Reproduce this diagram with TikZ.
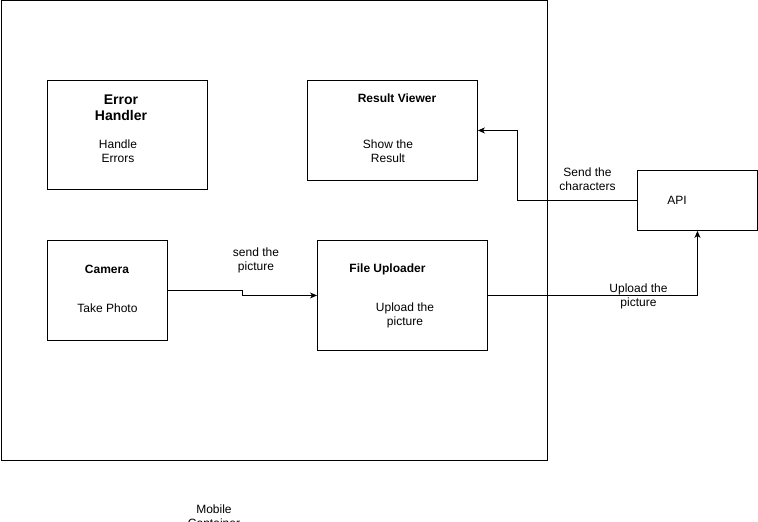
\documentclass[tikz,border=0pt]{standalone}
\usepackage{fontspec}
\setmainfont{Liberation Sans}
\usetikzlibrary{positioning,arrows.meta}

\begin{document}
\begin{tikzpicture}[x=1pt,y=-1pt,
  box/.style={rectangle,draw,line width=0.9pt,inner sep=0pt,anchor=north west},
  title/.style={font=\fontsize{12}{14}\selectfont\bfseries,inner sep=0pt,anchor=base},
  txt/.style={font=\fontsize{12}{14}\selectfont,align=center,inner sep=0pt},
  conn/.style={->,line width=0.9pt},
  >={Stealth[length=7pt,width=6pt,inset=2pt]}]
  \useasboundingbox (0,0) rectangle (758,522);
  \clip (0,0) rectangle (758,522);
  % Mobile container
  \node[box,minimum width=546.5pt,minimum height=459.5pt] (mobile) at (0.5,0.5) {};
  \node[txt] (mobiletext) at (214,516) {Mobile\\Container};
  % Components
  \node[box,minimum width=160pt,minimum height=109pt] (error) at (47,80) {};
  \node[box,minimum width=170pt,minimum height=100pt] (viewer) at (307,80) {};
  \node[box,minimum width=120pt,minimum height=100pt] (camera) at (47,240) {};
  \node[box,minimum width=170pt,minimum height=110pt] (uploader) at (317,240) {};
  \node[box,minimum width=120pt,minimum height=60pt] (api) at (637,170) {};
  % Texts inside the boxes
  \node[txt,font=\fontsize{14}{16}\selectfont\bfseries] (errortitle) at (121,108) {Error\\Handler};
  \node[txt] (errortext) at (118,151) {Handle\\Errors};
  \node[title] (viewertitle) at (397,102.3) {Result Viewer};
  \node[txt] (viewertext) at (388,151) {Show the\\Result};
  \node[title] (cameratitle) at (107,273.3) {Camera};
  \node[txt,anchor=base] (cameratext) at (107.5,312.7) {Take Photo};
  \node[title] (uploadertitle) at (387.5,272.3) {File Uploader};
  \node[txt] (uploadertext) at (405,315.5) {Upload the\\picture};
  \node[txt,anchor=base] (apitext) at (677,204) {API};
  % Connectors
  \draw[conn] (camera.east) -- ++(75,0) |- (uploader.west);
  \draw[conn] (uploader.east) -| (api.south);
  \draw[conn] (api.west) -- ++(-120,0) |- (viewer.east);
  \node[txt] (sendpic) at (256,260) {send the\\picture};
  \node[txt] (uploadpic) at (638.5,296.5) {Upload the\\picture};
  \node[txt] (sendchar) at (587.5,179.5) {Send the\\characters};
\end{tikzpicture}
\end{document}
